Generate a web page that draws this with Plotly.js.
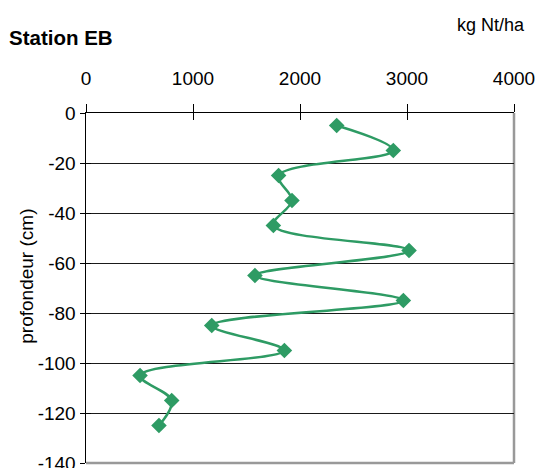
<!DOCTYPE html>
<html>
<head>
<meta charset="utf-8">
<script src="https://cdn.plot.ly/plotly-3.0.1.min.js"></script>
<style>html,body{margin:0;padding:0;background:#fff;}#chart{width:538px;height:468px;}</style>
</head>
<body>
<div id="chart"></div>
<script>
const depths = [-5, -15, -25, -35, -45, -55, -65, -75, -85, -95, -105, -115, -125];
const nitrogen = [2343, 2872, 1800, 1925, 1751, 3019, 1579, 2966, 1175, 1854, 505, 801, 682];
const xTicks = [0, 1000, 2000, 3000, 4000];
const yTicks = [0, -20, -40, -60, -80, -100, -120, -140];
const chartTitle = "Station EB";
const unitLabel = "kg Nt/ha";
const yLabel = "profondeur (cm)";

const FONT = "Liberation Sans, Arial, sans-serif";
const green = "rgb(46,155,100)";

const trace = {
  x: nitrogen, y: depths, type: "scatter", mode: "lines+markers",
  line: {color: green, width: 2.5, shape: "spline", smoothing: 1},
  marker: {symbol: "diamond", size: 12, color: green},
  hoverinfo: "skip", showlegend: false, xaxis: "x", yaxis: "y"
};
const helper = {x: [0], y: [0], type: "scatter", mode: "markers", marker: {opacity: 0}, xaxis: "x2", yaxis: "y2", showlegend: false, hoverinfo: "skip"};

const layout = {
  width: 538, height: 468,
  margin: {l: 86, r: 24, t: 113, b: 5},
  paper_bgcolor: "#fff", plot_bgcolor: "#fff",
  font: {family: FONT, color: "#000", size: 18},
  title: {text: "<b>" + chartTitle + "</b>", font: {family: FONT, size: 20.5, color: "#000"},
          xref: "container", yref: "container", x: 9/538, xanchor: "left", y: 1 - 38/468, yanchor: "middle"},
  xaxis: {
    side: "top", range: [0, 4000], tickvals: xTicks, ticktext: xTicks.map(String),
    showgrid: false, zeroline: false, showline: true, linecolor: "#000", linewidth: 1.5,
    ticks: "outside", ticklen: 8, tickwidth: 1, tickcolor: "#000",
    ticklabelstandoff: 11, ticklabeloverflow: "allow", tickfont: {family: FONT, size: 19, color: "#000"}, fixedrange: true
  },
  xaxis2: {overlaying: "x", matches: "x", side: "top", range: [0, 4000], tickvals: xTicks,
    showticklabels: false, showgrid: false, zeroline: false, showline: false,
    ticks: "inside", ticklen: 7, tickwidth: 1, tickcolor: "#000", fixedrange: true},
  yaxis: {
    range: [-140, 0], tickvals: yTicks, ticktext: yTicks.map(String),
    showgrid: true, gridcolor: "#1a1a1a", gridwidth: 1, zeroline: false,
    showline: true, linecolor: "#000", linewidth: 1.5,
    ticks: "outside", ticklen: 5, tickwidth: 1, tickcolor: "#000",
    ticklabeloverflow: "allow",
    tickfont: {family: FONT, size: 19, color: "#000"}, fixedrange: true
  },
  yaxis2: {overlaying: "y", matches: "y", side: "left", range: [-140, 0], tickvals: yTicks,
    showticklabels: false, showgrid: false, zeroline: false, showline: false,
    ticks: "inside", ticklen: 5, tickwidth: 1, tickcolor: "#000", fixedrange: true},
  shapes: [
    {type: "line", xref: "paper", yref: "paper", x0: 1, x1: 1, y0: 0, y1: 1, line: {color: "#999", width: 2.5}, layer: "below"},
    {type: "line", xref: "paper", yref: "paper", x0: 0, x1: 1, y0: 0, y1: 0, line: {color: "#999", width: 2.5}, layer: "below"}
  ],
  annotations: [
    {text: unitLabel, xref: "paper", yref: "paper", x: (527 - 86)/428, xanchor: "right",
     y: (463.3 - 25)/350, yanchor: "middle", showarrow: false, font: {family: FONT, size: 18, color: "#000"}},
    {text: yLabel, xref: "paper", yref: "paper", x: (27 - 86)/428, xanchor: "center",
     y: (463.3 - 277)/350, yanchor: "middle", textangle: -90, showarrow: false, font: {family: FONT, size: 19, color: "#000"}}
  ]
};

Plotly.newPlot("chart", [trace, helper], layout, {staticPlot: true, displayModeBar: false});
</script>
</body>
</html>
